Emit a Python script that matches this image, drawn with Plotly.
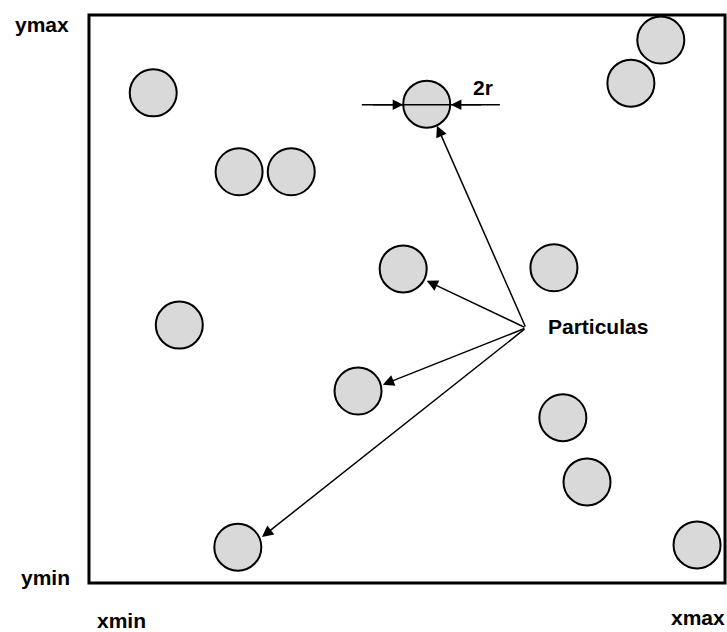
import plotly.graph_objects as go

# particle centres, box runs from xmin=0 to xmax=100 and ymin=0 to ymax=100
part_x = [10.1, 53.1, 89.9, 85.2, 23.6, 31.8, 49.4, 73.1, 14.2, 42.3, 74.5, 78.3, 23.4, 95.6]
part_y = [86.3, 84.3, 95.6, 88.0, 72.4, 72.4, 55.3, 55.5, 45.4, 33.8, 29.1, 17.8, 6.3, 6.7]

# arrows from the "Particulas" label to some particles
origem = (68.7, 44.9)
seta_x = [54.7, 53.1, 46.2, 27.2]
seta_y = [80.5, 53.2, 34.9, 8.1]

# 2r dimension on particle 2
cota_y = 84.2
cota_linha = (42.9, 64.6)
cota_pontas = (49.4, 56.9)

fonte = dict(family="Liberation Sans, Arial", size=21, color="black")

fig = go.Figure()

fig.add_trace(go.Scatter(
    x=part_x, y=part_y, mode="markers",
    marker=dict(size=47, color="#d9d9d9", line=dict(color="black", width=2)),
    hoverinfo="skip", showlegend=False,
))

# moldura
fig.add_shape(type="rect", x0=0, y0=0, x1=100, y1=100,
              line=dict(color="black", width=3), layer="below")

# linha da cota
fig.add_shape(type="line", x0=cota_linha[0], x1=cota_linha[1], y0=cota_y, y1=cota_y,
              line=dict(color="black", width=1.5), layer="above")

anots = []
for sx, sy in zip(seta_x, seta_y):
    anots.append(dict(x=sx, y=sy, ax=origem[0], ay=origem[1], xref="x", yref="y",
                      axref="x", ayref="y", text="", showarrow=True, arrowhead=2,
                      arrowsize=1.5, arrowwidth=1.5, arrowcolor="black", standoff=0))

anots.append(dict(x=cota_pontas[0], y=cota_y, ax=cota_pontas[0] - 5, ay=cota_y, xref="x", yref="y",
                  axref="x", ayref="y", text="", showarrow=True, arrowhead=2,
                  arrowsize=1.4, arrowwidth=1.5, arrowcolor="black", standoff=0))
anots.append(dict(x=cota_pontas[1], y=cota_y, ax=cota_pontas[1] + 5, ay=cota_y, xref="x", yref="y",
                  axref="x", ayref="y", text="", showarrow=True, arrowhead=2,
                  arrowsize=1.4, arrowwidth=1.5, arrowcolor="black", standoff=0))

textos = [
    ("<b>2r</b>", 62.0, 87.3, "center"),
    ("<b>Particulas</b>", 71.8, 45.2, "left"),
    ("<b>ymax</b>", -2.9, 98.4, "right"),
    ("<b>ymin</b>", -2.6, 1.0, "right"),
    ("<b>xmin</b>", 5.1, -6.6, "center"),
    ("<b>xmax</b>", 100.3, -6.1, "right"),
]
for t, x, y, anc in textos:
    anots.append(dict(x=x, y=y, xref="x", yref="y", text=t, showarrow=False,
                      xanchor=anc, yanchor="middle", font=fonte))

fig.update_layout(
    width=727, height=632,
    margin=dict(l=0, r=0, t=0, b=0),
    paper_bgcolor="white", plot_bgcolor="white",
    xaxis=dict(range=[-13.99, 100.31], visible=False, fixedrange=True),
    yaxis=dict(range=[-8.63, 102.64], visible=False, fixedrange=True),
    annotations=anots,
    showlegend=False,
)

# the page has a default body margin, drop it so the figure fills the window
fig.write_html("out.html", config={"displayModeBar": False},
               post_script="document.body.style.margin='0';document.body.style.overflow='hidden';")
